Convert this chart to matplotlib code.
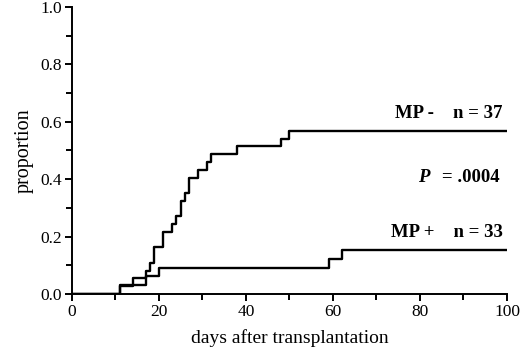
import numpy as np
import matplotlib.pyplot as plt
from matplotlib.ticker import MultipleLocator

# Cumulative incidence step curves (event days and proportions)
mp_neg_days = [0, 11, 14, 17, 18, 19, 21, 23, 24, 25, 26, 27, 29, 31, 32, 38, 48, 50, 100]
mp_neg_prop = [0.0, 0.027, 0.054, 0.081, 0.108, 0.162, 0.216, 0.243, 0.270, 0.324,
               0.351, 0.405, 0.432, 0.459, 0.486, 0.514, 0.541, 0.568, 0.568]

mp_pos_days = [0, 11, 17, 20, 59, 62, 100]
mp_pos_prop = [0.0, 0.030, 0.061, 0.091, 0.121, 0.152, 0.152]

plt.rcParams['font.family'] = ['Liberation Serif', 'DejaVu Serif']

fig = plt.figure(figsize=(5.2, 3.52), dpi=100)
ax = fig.add_axes([0.138, 0.165, 0.837, 0.815])

ax.plot(mp_neg_days, mp_neg_prop, drawstyle='steps-post', color='black', lw=1.7)
ax.plot(mp_pos_days, mp_pos_prop, drawstyle='steps-post', color='black', lw=1.7)

ax.set_xlim(0, 100)
ax.set_ylim(0, 1.0)
ax.xaxis.set_major_locator(MultipleLocator(20))
ax.xaxis.set_minor_locator(MultipleLocator(10))
ax.yaxis.set_major_locator(MultipleLocator(0.2))
ax.yaxis.set_minor_locator(MultipleLocator(0.1))
ax.yaxis.set_major_formatter(plt.FormatStrFormatter('%.1f'))

for s in ['top', 'right']:
    ax.spines[s].set_visible(False)
for s in ['left', 'bottom']:
    ax.spines[s].set_linewidth(1.4)

ax.tick_params(which='both', direction='out', width=1.4, labelsize=12.5, pad=2)
ax.tick_params(which='major', length=5)
ax.tick_params(which='minor', length=4)

ax.set_xlabel('days after transplantation', fontsize=14, labelpad=7)
ax.set_ylabel('proportion', fontsize=14.5, labelpad=5)

# annotations
ax.text(0.99, 0.63, 'MP -    n = 37', transform=ax.transAxes, ha='right', va='center',
        fontsize=13.5, fontweight='bold')
ax.text(0.795, 0.405, 'P', transform=ax.transAxes, ha='left', va='center',
        fontsize=13.5, fontweight='bold', style='italic')
ax.text(0.984, 0.405, '= .0004', transform=ax.transAxes, ha='right', va='center',
        fontsize=13.5, fontweight='bold')
ax.text(0.99, 0.215, 'MP +    n = 33', transform=ax.transAxes, ha='right', va='center',
        fontsize=13.5, fontweight='bold')

plt.savefig('out.png', dpi=100)
